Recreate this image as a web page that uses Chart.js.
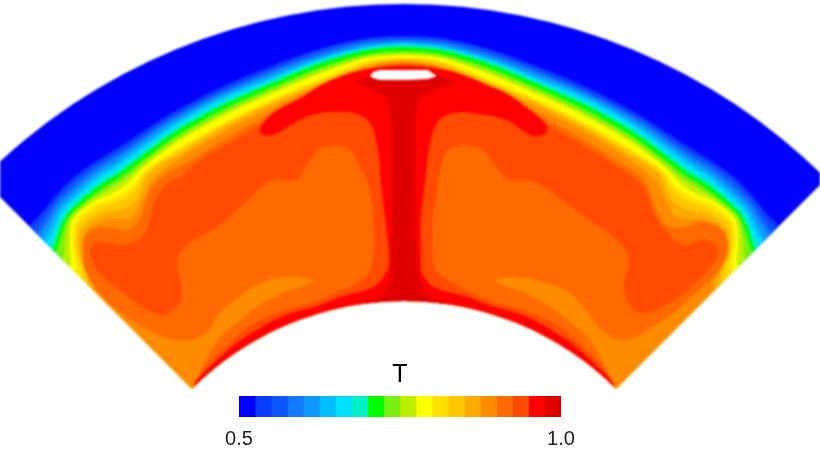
<!DOCTYPE html>
<html>
<head>
<meta charset="utf-8">
<style>
html, body { margin: 0; padding: 0; background: #fff; overflow: hidden; }
canvas { position: absolute; }
#field { left: 0; top: 0; filter: blur(0.8px); }
#bar { left: 180px; top: 352px; filter: blur(0.5px); }
</style>
</head>
<body>
<canvas id="field" width="820" height="461"></canvas>
<canvas id="bar" width="440" height="109"></canvas>
<script src="https://cdn.jsdelivr.net/npm/chart.js@4"></script>
<script>
// sector limits, plot units from the centre of curvature
const innerRadius = 300;
const outerRadius = 597;
const halfAngle = 45;

const levelColors = ['#0000ff', '#0a3cff', '#0f55ff', '#1478ff', '#0f96ff', '#00beff', '#00deff', '#00f0c8', '#00ff00', '#78f014',
    '#bef000', '#ffff00', '#ffe000', '#ffc800', '#ffaa00', '#ff8c00', '#ff6a00', '#ff4b00', '#ff0000', '#e00000'];
const levelEdges = [0.5, 0.525, 0.55, 0.575, 0.6, 0.625, 0.65, 0.675, 0.7, 0.725, 0.75, 0.775, 0.8, 0.825, 0.85, 0.875, 0.9, 0.925, 0.95, 0.975, 1.0];
const barTicks = [0.5, 1.0];

// contour radius per angle, one row per level going inwards from the cold side
const angles = [-45, -43, -41, -38, -35.5, -33.5, -31, -26, -20, -14, -9, -4, 0, 4, 9, 14, 20, 26, 31, 33.5, 35.5, 38, 41, 43, 45];
const contour1 = [530, 531, 534, 537, 537, 536, 536, 540, 545, 551, 558, 564, 565, 564, 558, 551, 545, 540, 536, 536, 537, 537, 534, 531, 530];
const contour2 = [525, 527, 531, 534, 534, 533, 533, 537, 542, 548, 556, 562, 563, 562, 556, 548, 542, 537, 533, 533, 534, 534, 531, 527, 525];
const contour3 = [520, 523, 528, 530, 531, 530, 530, 535, 540, 546, 553, 560, 561, 560, 553, 546, 540, 535, 530, 530, 531, 530, 528, 523, 520];
const contour4 = [516, 520, 525, 527, 528, 527, 528, 533, 538, 544, 551, 558, 559.5, 558, 551, 544, 538, 533, 528, 527, 528, 527, 525, 520, 516];
const contour5 = [511, 516, 522, 524, 525, 524, 525, 530, 536, 541, 549, 556, 558, 556, 549, 541, 536, 530, 525, 524, 525, 524, 522, 516, 511];
const contour6 = [507, 512, 519, 521, 522, 521, 522, 528, 534, 539, 548, 555, 557, 555, 548, 539, 534, 528, 522, 521, 522, 521, 519, 512, 507];
const contour7 = [502, 509, 516, 518, 519, 518, 519, 525, 531, 537, 546, 553, 555.5, 553, 546, 537, 531, 525, 519, 518, 519, 518, 516, 509, 502];
const contour8 = [497, 506, 513, 515, 515, 514, 516, 522, 528, 535, 544, 552, 554, 552, 544, 535, 528, 522, 516, 514, 515, 515, 513, 506, 497];
const contour9 = [493, 502, 510, 511, 511, 510, 512, 518, 524, 531, 540, 548, 550, 548, 540, 531, 524, 518, 512, 510, 511, 511, 510, 502, 493];
const contour10 = [483, 497, 508, 509, 507, 506, 509, 515, 521, 528, 537, 546, 548, 546, 537, 528, 521, 515, 509, 506, 507, 509, 508, 497, 483];
const contour11 = [473, 490, 505, 506, 501, 501, 506, 512, 518, 525, 534, 544, 546, 544, 534, 525, 518, 512, 506, 501, 501, 506, 505, 490, 473];
const contour12 = [465, 485, 501, 502, 496, 495, 502, 506, 512, 520, 529, 541, 543.5, 541, 529, 520, 512, 506, 502, 495, 496, 502, 501, 485, 465];
const contour13 = [456, 480, 497, 497, 491, 490, 500, 504, 510, 518, 527, 539, 542, 539, 527, 518, 510, 504, 500, 490, 491, 497, 497, 480, 456];
const contour14 = [448, 476, 492, 491, 482, 483, 497, 501, 508, 516, 525, 537, 541, 537, 525, 516, 508, 501, 497, 483, 482, 491, 492, 476, 448];
const contour15 = [440, 470, 487, 484, 471, 477, 490, 497, 504, 513, 523, 535, 539.5, 535, 523, 513, 504, 497, 490, 477, 471, 484, 487, 470, 440];

// the hotter levels close on themselves, so they are outlines of x, y pairs
const outline16 = [[-212, 209], [-207, 223], [-201, 236], [-184, 263], [-167, 278], [-147, 294], [-121, 308], [-91, 320], [-114, 324], [-141, 319], [-167, 303], [-184, 288], [-197, 269], [-214, 261], [-237, 263], [-261, 274], [-287, 291], [-307, 311], [-319, 331], [-321, 348], [-319, 364], [-306, 374], [-292, 373], [-277, 371], [-267, 378], [-261, 391], [-254, 411], [-239, 426], [-214, 440], [-170, 467], [-123, 493], [-81, 513], [-37, 532], [0, 538],
    [37, 532], [81, 513], [123, 493], [170, 467], [214, 440], [240, 421], [250, 398], [259, 379], [275, 373], [299, 379], [319, 371], [324, 351], [315, 331], [285, 301], [255, 278], [222, 261], [199, 269], [179, 294], [162, 311], [142, 318], [111, 324], [91, 320], [121, 308], [147, 294], [167, 278], [184, 263], [201, 236], [207, 223], [212, 209]];
const outline17 = [[-212, 209], [-204, 225], [-197, 236], [-177, 256], [-154, 275], [-127, 288], [-84, 301], [-64, 310], [-39, 323], [-31, 341], [-31, 384], [-36, 418], [-46, 438], [-58, 454], [-81, 454], [-94, 441], [-108, 421], [-131, 421], [-164, 394], [-187, 374], [-214, 358], [-227, 341], [-222, 314], [-224, 298], [-241, 286], [-271, 301], [-307, 331], [-314, 348], [-309, 359], [-294, 358], [-279, 356], [-262, 364], [-254, 381], [-249, 401], [-236, 418], [-224, 424], [-204, 441], [-170, 461], [-123, 488], [-81, 508], [-37, 530], [0, 536.5],
    [37, 530], [81, 508], [123, 488], [170, 461], [219, 431], [239, 414], [249, 391], [259, 373], [279, 356], [299, 361], [312, 356], [312, 341], [275, 304], [242, 288], [230, 291], [220, 311], [225, 341], [222, 351], [205, 368], [175, 388], [142, 413], [122, 421], [106, 421], [89, 438], [76, 453], [49, 454], [39, 441], [32, 401], [29, 384], [29, 341], [34, 328], [64, 310], [84, 301], [127, 288], [154, 275], [177, 256], [197, 236], [204, 225], [212, 209]];
const outline18 = [[-212, 209], [-208, 220], [-194, 234], [-171, 255], [-147, 271], [-121, 285], [-84, 296], [-64, 304], [-31, 314], [-18, 328], [-15, 341], [-19, 384], [-23, 418], [-26, 451], [-34, 478], [-51, 488], [-74, 489], [-98, 484], [-131, 466], [-142, 467], [-144, 471], [-141, 478], [-127, 491], [-104, 503], [-81, 517], [-54, 528], [-24, 534], [0, 535],
    [24, 534], [54, 528], [81, 517], [102, 508], [126, 491], [141, 478], [143, 471], [141, 467], [129, 465], [102, 481], [69, 488], [49, 488], [33, 478], [25, 451], [21, 418], [17, 384], [17, 341], [18, 328], [30, 314], [64, 304], [84, 296], [121, 285], [147, 271], [171, 255], [194, 234], [208, 220], [212, 209]];
const outline19 = [[-48, 518], [-31, 526], [29, 526], [49, 518], [29, 511], [17, 504], [12, 484], [11, 451], [11, 401], [13, 341], [16, 324], [26, 303], [42, 298], [0, 281], [-38, 298], [-24, 303], [-14, 324], [-13, 341], [-12, 401], [-12, 451], [-13, 481], [-18, 504], [-31, 511]];
const hotSpot = [[-34, 525], [-31, 529], [-24, 531], [24, 531], [28, 528], [33, 525], [24, 522], [3, 521], [-24, 521], [-31, 523]];

function polarPoint(angle, radius) {
    const a = angle * Math.PI / 180;
    return { x: radius * Math.sin(a), y: radius * Math.cos(a) };
}

// a level fills everything below its contour; the ends run past the sector and the sector clip trims them
function contourPolygon(radii) {
    const last = radii.length - 1;
    const points = [polarPoint(-55, radii[0])];
    radii.forEach((r, i) => points.push(polarPoint(angles[i], r)));
    points.push(polarPoint(55, radii[last]));
    points.push(polarPoint(55, 240));
    points.push(polarPoint(0, 240));
    points.push(polarPoint(-55, 240));
    return points;
}

function outlinePolygon(pairs) {
    return pairs.map(p => ({ x: p[0], y: p[1] }));
}

const contours = [angles.map(() => outerRadius + 10), contour1, contour2, contour3, contour4, contour5, contour6, contour7, contour8,
    contour9, contour10, contour11, contour12, contour13, contour14, contour15];
const outlines = [outline16, outline17, outline18, outline19];

const fieldSets = [];
contours.forEach((radii, i) => fieldSets.push({ data: contourPolygon(radii), backgroundColor: levelColors[i], tension: 0.3 }));
outlines.forEach((pairs, i) => fieldSets.push({ data: outlinePolygon(pairs), backgroundColor: levelColors[16 + i], tension: 0.35 }));
fieldSets.push({ data: outlinePolygon(hotSpot), backgroundColor: '#ffffff', tension: 0 });
fieldSets.forEach(d => { d.showLine = true; d.fill = 'shape'; d.borderWidth = 0; d.pointRadius = 0; });

const sectorClip = {
    id: 'sectorClip',
    beforeDatasetsDraw(chart) {
        const { ctx, scales: { x, y } } = chart;
        const cx = x.getPixelForValue(0);
        const cy = y.getPixelForValue(0);
        const unit = x.getPixelForValue(1) - cx;
        const from = (-90 - halfAngle) * Math.PI / 180;
        const to = (-90 + halfAngle) * Math.PI / 180;
        ctx.save();
        ctx.beginPath();
        ctx.arc(cx, cy, outerRadius * unit, from, to);
        ctx.arc(cx, cy, innerRadius * unit, to, from, true);
        ctx.closePath();
        ctx.clip();
    },
    afterDatasetsDraw(chart) {
        chart.ctx.restore();
    }
};

// first dataset is drawn last in Chart.js, so the stack goes in reversed
new Chart(document.getElementById('field'), {
    type: 'scatter',
    data: { datasets: fieldSets.reverse() },
    plugins: [sectorClip],
    options: {
        responsive: false,
        animation: false,
        events: [],
        layout: { padding: 0 },
        elements: { line: { capBezierPoints: false } },
        plugins: { legend: { display: false }, tooltip: { enabled: false } },
        scales: {
            x: { type: 'linear', min: -404, max: 416, display: false },
            y: { type: 'linear', min: 140, max: 601, display: false }
        }
    }
});

new Chart(document.getElementById('bar'), {
    type: 'bar',
    data: {
        labels: ['T'],
        datasets: levelColors.map((color, i) => ({
            data: [[levelEdges[i], levelEdges[i + 1]]],
            backgroundColor: color,
            grouped: false,
            barPercentage: 1,
            categoryPercentage: 1
        }))
    },
    options: {
        indexAxis: 'y',
        responsive: false,
        animation: false,
        events: [],
        layout: { padding: { left: 59, right: 59, top: 0, bottom: 0 } },
        plugins: {
            legend: { display: false },
            tooltip: { enabled: false },
            title: { display: true, text: 'T', color: '#000', font: { family: 'Liberation Sans', size: 25, weight: 'normal' }, padding: { top: 8, bottom: 6 } }
        },
        scales: {
            x: {
                type: 'linear', min: 0.5, max: 1.0,
                grid: { display: false, drawTicks: false }, border: { display: false },
                afterBuildTicks: axis => { axis.ticks = barTicks.map(v => ({ value: v })); },
                ticks: { autoSkip: false, maxRotation: 0, padding: 10, color: '#222', font: { family: 'Liberation Sans', size: 20 }, callback: v => v.toFixed(1) }
            },
            y: { display: false }
        }
    }
});
</script>
</body>
</html>
